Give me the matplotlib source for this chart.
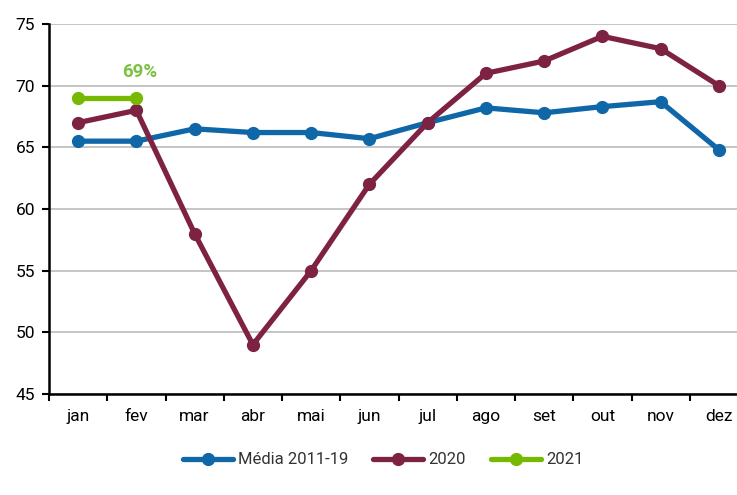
import matplotlib.pyplot as plt
import numpy as np

# dados
meses = ['jan', 'fev', 'mar', 'abr', 'mai', 'jun', 'jul', 'ago', 'set', 'out', 'nov', 'dez']
media_2011_19 = [65.5, 65.5, 66.5, 66.2, 66.2, 65.7, 67.0, 68.2, 67.8, 68.3, 68.7, 64.8]
valores_2020 = [67, 68, 58, 49, 55, 62, 67, 71, 72, 74, 73, 70]
valores_2021 = [69, 69]
rotulo_2021 = '69%'

plt.rcParams['font.family'] = ['Roboto', 'DejaVu Sans']

fig = plt.figure(figsize=(7.37, 4.95), dpi=100)
ax = fig.add_axes([49 / 737, 1 - 394 / 495, (748 - 49) / 737, (394 - 24) / 495])

x = np.arange(len(meses))
estilo = dict(linewidth=3.8, marker='o', markersize=8.5, solid_capstyle='round')
ax.plot(x, media_2011_19, color='#0f67a8', label='Média 2011-19', zorder=3, **estilo)
ax.plot(x, valores_2020, color='#7d2243', label='2020', zorder=4, **estilo)
ax.plot(x[:len(valores_2021)], valores_2021, color='#76b900', label='2021', zorder=5, **estilo)

ax.text(1.05, 71.1, rotulo_2021, color='#7cc142', fontsize=13.5, fontweight='bold',
        ha='center', va='center')

ax.set_xlim(-0.5, len(meses) - 0.5)
ax.set_ylim(45, 75)
ax.set_yticks(range(45, 80, 5))
ax.set_xticks(x)
ax.set_xticklabels(meses)
ax.set_xticks(np.arange(-0.5, len(meses), 1), minor=True)
ax.tick_params(axis='x', which='major', length=0, pad=11, labelsize=12.5)
ax.tick_params(axis='x', which='minor', length=5, width=1.5, direction='out')
ax.tick_params(axis='y', length=5, width=1.5, labelsize=12.5, pad=5)

ax.yaxis.grid(True, color='#c0c0c0', linewidth=1.3)
ax.set_axisbelow(True)
for lado in ['top', 'right']:
    ax.spines[lado].set_visible(False)
for lado in ['left', 'bottom']:
    ax.spines[lado].set_linewidth(1.8)

fig.legend(loc='center', bbox_to_anchor=(0.52, 1 - 460 / 495), ncol=3, frameon=False,
           fontsize=12, handlelength=3.0, handletextpad=0.3, columnspacing=1.5,
           labelcolor='#333333')

fig.savefig('out.png', dpi=100)
